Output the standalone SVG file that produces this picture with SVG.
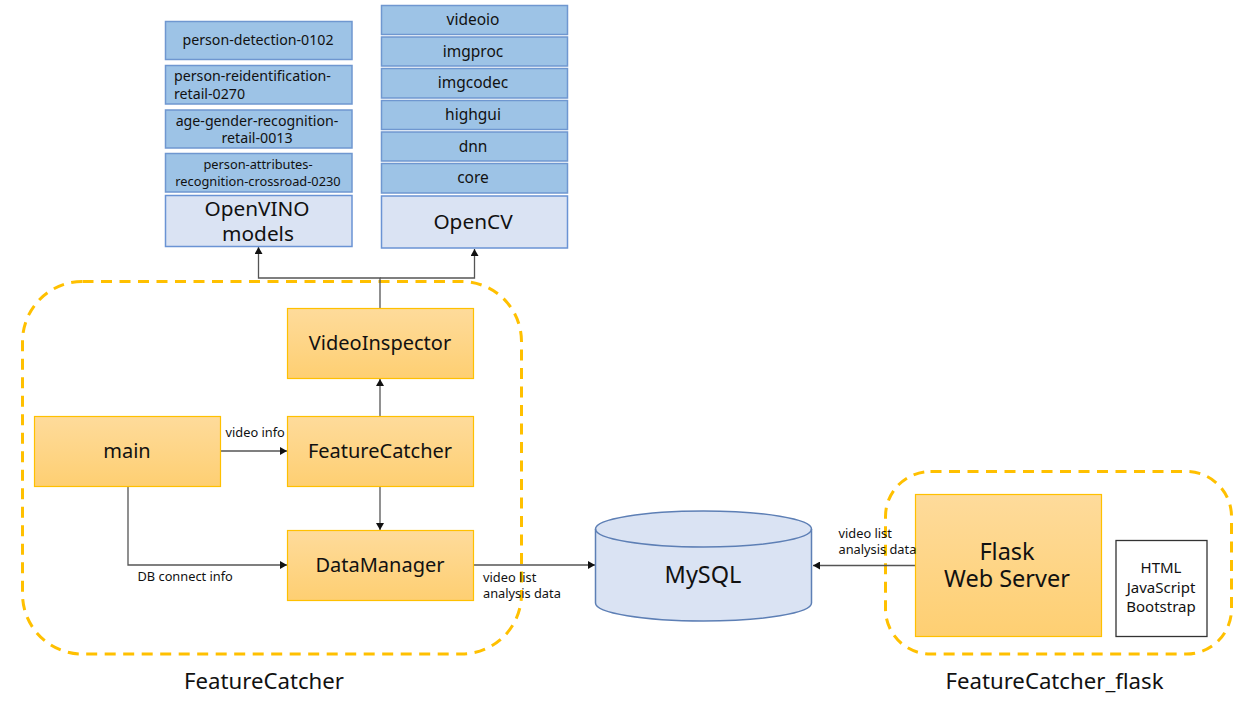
<svg xmlns="http://www.w3.org/2000/svg" width="1253" height="706" viewBox="0 0 1253 706">
<style>
text{font-family:"Noto Sans","Noto Sans CJK KR","Liberation Sans",sans-serif;fill:#111;text-anchor:middle}
.blue rect{fill:#9dc3e6;stroke:#6f97d0;stroke-width:1.5}
.light rect{fill:#dae3f3;stroke:#6a93d4;stroke-width:1.5}
.orange rect{fill:url(#og);stroke:#ffc000;stroke-width:1.2}
.s15{font-size:15.500px}.s14{font-size:14.200px}.s13{font-size:15px}.s12{font-size:12.800px}.s20{font-size:20px}.s21{font-size:20.800px}.s23{font-size:23.500px}.s22{font-size:22.200px}
.lab{font-size:12.800px;text-anchor:start}
.dash{fill:none;stroke:#ffc000;stroke-width:3;stroke-dasharray:11 7.500}
.conn{fill:none;stroke:#555;stroke-width:1.3;marker-end:url(#arr)}
</style>
<defs>
<linearGradient id="og" x1="0" y1="0" x2="0" y2="1"><stop offset="0" stop-color="#fedb9b"/><stop offset="1" stop-color="#fecf72"/></linearGradient>
<marker id="arr" markerUnits="userSpaceOnUse" markerWidth="8" markerHeight="8" refX="7" refY="4" orient="auto"><path d="M0 0L7 4L0 8Z" fill="#111"/></marker>
</defs>
<rect id="boundary-featurecatcher" class="dash" x="22.500" y="281.500" width="499" height="372.500" rx="60"/>
<rect id="boundary-flask" class="dash" x="885.500" y="471.500" width="346" height="182.500" rx="45"/>
<g id="connectors">
<path class="conn" d="M380 308V278H258.500V247"/>
<path class="conn" d="M380 278H474.500V249"/>
<path class="conn" d="M380 416V379"/>
<path class="conn" d="M221 451H287"/>
<path class="conn" d="M380 486V530"/>
<path class="conn" d="M128 486V565H287"/>
<path class="conn" d="M473 565H595"/>
<path class="conn" d="M915 565.500H813"/>
</g>
<g id="person-detection" class="blue"><rect x="165.500" y="21.500" width="186.500" height="38"/><text class="s14" x="258" y="44.500">person-detection-0102</text></g>
<g id="person-reid" class="blue"><rect x="165.500" y="65.500" width="186.500" height="38.500"/><text class="s14" style="text-anchor:start"><tspan x="174" y="81">person-reidentification-</tspan><tspan x="174" y="99">retail-0270</tspan></text></g>
<g id="age-gender" class="blue"><rect x="165.500" y="110" width="186.500" height="38"/><text class="s14"><tspan x="257" y="126">age-gender-recognition-</tspan><tspan x="257" y="143">retail-0013</tspan></text></g>
<g id="person-attr" class="blue"><rect x="165.500" y="153.500" width="186.500" height="38.500"/><text class="s12"><tspan x="258" y="169">person-attributes-</tspan><tspan x="258" y="185.500">recognition-crossroad-0230</tspan></text></g>
<g id="openvino" class="light"><rect x="165.500" y="195.500" width="186.500" height="51"/><text class="s21"><tspan x="257" y="216">OpenVINO</tspan><tspan x="258" y="241">models</tspan></text></g>
<g id="videoio" class="blue"><rect x="381.500" y="5.500" width="186" height="29"/><text class="s15" x="473" y="25">videoio</text></g>
<g id="imgproc" class="blue"><rect x="381.500" y="37" width="186" height="29"/><text class="s15" x="473" y="57">imgproc</text></g>
<g id="imgcodec" class="blue"><rect x="381.500" y="68.500" width="186" height="29.500"/><text class="s15" x="473" y="88">imgcodec</text></g>
<g id="highgui" class="blue"><rect x="381.500" y="100.500" width="186" height="29"/><text class="s15" x="473" y="120">highgui</text></g>
<g id="dnn" class="blue"><rect x="381.500" y="132" width="186" height="29"/><text class="s15" x="473" y="152">dnn</text></g>
<g id="core" class="blue"><rect x="381.500" y="163.500" width="186" height="29.500"/><text class="s15" x="473" y="183">core</text></g>
<g id="opencv" class="light"><rect x="381.500" y="196" width="186" height="52"/><text class="s21" x="473" y="229">OpenCV</text></g>
<g id="videoinspector" class="orange"><rect x="287.500" y="308.500" width="186" height="70"/><text class="s20" x="380" y="350">VideoInspector</text></g>
<g id="featurecatcher" class="orange"><rect x="287.500" y="416.500" width="186" height="70"/><text class="s20" x="380" y="458">FeatureCatcher</text></g>
<g id="main" class="orange"><rect x="34.500" y="416.500" width="186" height="70"/><text class="s20" x="127" y="458">main</text></g>
<g id="datamanager" class="orange"><rect x="287.500" y="530.500" width="186" height="70"/><text class="s20" x="380" y="572">DataManager</text></g>
<g id="mysql">
<path d="M595.500 529C595.500 519 644 511 703.500 511S811.500 519 811.500 529V603C811.500 613 763 621 703.500 621S595.500 613 595.500 603Z" fill="#dae3f3" stroke="#5d7fb5" stroke-width="1.5"/>
<path d="M595.500 529C595.500 539 644 547 703.500 547S811.500 539 811.500 529" fill="none" stroke="#5d7fb5" stroke-width="1.5"/>
<text class="s23" x="703" y="583">MySQL</text>
</g>
<g id="flask" class="orange"><rect x="915.500" y="494.500" width="186" height="142"/><text class="s23"><tspan x="1007" y="560">Flask</tspan><tspan x="1007" y="587">Web Server</tspan></text></g>
<g id="webstack"><rect x="1116" y="540.500" width="91" height="96" fill="#fff" stroke="#333" stroke-width="1.3"/><text class="s13"><tspan x="1161" y="573">HTML</tspan><tspan x="1161" y="593">JavaScript</tspan><tspan x="1161" y="612">Bootstrap</tspan></text></g>
<text class="lab" x="225.500" y="437">video info</text>
<text class="lab" x="137.500" y="581">DB connect info</text>
<text class="lab"><tspan x="483" y="582">video list</tspan><tspan x="483" y="598">analysis data</tspan></text>
<text class="lab"><tspan x="838.500" y="538">video list</tspan><tspan x="838.500" y="554">analysis data</tspan></text>
<text class="s22" x="264" y="689">FeatureCatcher</text>
<text class="s22" x="1054.500" y="689">FeatureCatcher_flask</text>
</svg>
